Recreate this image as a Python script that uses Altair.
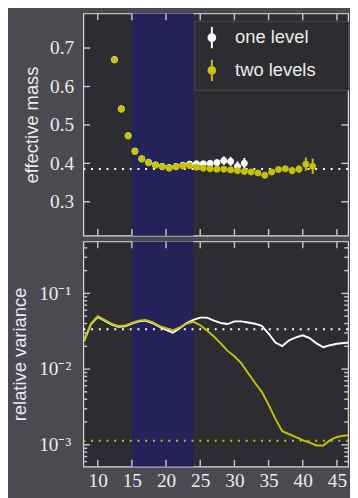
import altair as alt
import pandas as pd

# ---------------- shared x axis ----------------
x_domain = [7.9, 46.63]
x_ticks = [10, 15, 20, 25, 30, 35, 40, 45]
band_start, band_end = 15, 24
mid_offset = 0.45  # effective mass plotted between time slices

# ---------------- top panel: effective mass ----------------
t_two = list(range(12, 42))
m_two = [0.669, 0.541, 0.471, 0.431, 0.411, 0.4015, 0.395, 0.391, 0.3876, 0.391,
         0.393, 0.394, 0.390, 0.3876, 0.386, 0.385, 0.385, 0.383, 0.381, 0.379,
         0.3776, 0.375, 0.369, 0.3776, 0.384, 0.386, 0.381, 0.385, 0.398, 0.3925]
e_two = [0.003, 0.003, 0.003, 0.003, 0.003, 0.003, 0.003, 0.003, 0.003, 0.003,
         0.003, 0.003, 0.003, 0.003, 0.003, 0.003, 0.003, 0.003, 0.003, 0.003,
         0.003, 0.003, 0.005, 0.005, 0.005, 0.005, 0.009, 0.010, 0.017, 0.020]
t_one = list(range(12, 32))
m_one = [0.670, 0.542, 0.472, 0.432, 0.412, 0.4025, 0.396, 0.392, 0.389, 0.392,
         0.395, 0.398, 0.399, 0.399, 0.400, 0.402, 0.407, 0.405, 0.392, 0.400]
e_one = [0.003, 0.003, 0.003, 0.003, 0.003, 0.003, 0.003, 0.003, 0.003, 0.003,
         0.003, 0.003, 0.003, 0.003, 0.003, 0.006, 0.011, 0.012, 0.013, 0.014]
m_ref = 0.3855
mass_domain = [0.212, 0.79]
mass_ticks = [0.3, 0.4, 0.5, 0.6, 0.7]
series_names = ["one level", "two levels"]
series_colors = ["#ffffff", "#c8c300"]

# ---------------- bottom panel: relative variance ----------------
t_var = list(range(8, 48))
var_one = [0.0234, 0.0389, 0.0490, 0.0437, 0.0389, 0.0363, 0.0367, 0.0398, 0.0427, 0.0437,
           0.0407, 0.0363, 0.0331, 0.0302, 0.0347, 0.0407, 0.0447, 0.0479, 0.0479, 0.0437,
           0.0407, 0.0394, 0.0427, 0.0427, 0.0412, 0.0398, 0.0372, 0.0295, 0.0224, 0.0202,
           0.0240, 0.0263, 0.0279, 0.0257, 0.0219, 0.0195, 0.0207, 0.0216, 0.0221, 0.0226]
var_two = [0.0240, 0.0398, 0.0501, 0.0447, 0.0398, 0.0372, 0.0376, 0.0407, 0.0437, 0.0447,
           0.0417, 0.0372, 0.0347, 0.0324, 0.0355, 0.0398, 0.0422, 0.0380, 0.0324, 0.0269,
           0.0219, 0.0174, 0.0148, 0.0120, 0.0089, 0.0066, 0.0050, 0.0034, 0.0022, 0.00151,
           0.00138, 0.00126, 0.00115, 0.00107, 0.00098, 0.00098, 0.00115, 0.00127, 0.00132, 0.00135]
var_ref_one = 0.0336
var_ref_two = 0.00113
var_domain = [5.16e-4, 0.486]
var_major = [0.001, 0.01, 0.1]
var_major_labels = ["10⁻³", "10⁻²", "10⁻¹"]
var_minor = [6e-4, 7e-4, 8e-4, 9e-4,
             2e-3, 3e-3, 4e-3, 5e-3, 6e-3, 7e-3, 8e-3, 9e-3,
             2e-2, 3e-2, 4e-2, 5e-2, 6e-2, 7e-2, 8e-2, 9e-2,
             2e-1, 3e-1, 4e-1]

# ---------------- style ----------------
W, H1, H2 = 274, 230, 233
BG = "#4a4a50"
PANEL = "#2d2c30"
BAND = "#232259"
TICK = "#c4c4c4"
TXT = "#ececec"
SERIF = "Liberation Serif"
SANS = "Liberation Sans"

xs = alt.Scale(domain=x_domain, nice=False, zero=False)
ys1 = alt.Scale(domain=mass_domain, nice=False, zero=False)
ys2 = alt.Scale(type="log", domain=var_domain, nice=False)
cs = alt.Scale(domain=series_names, range=series_colors)

label_map = "{" + ",".join(f"'{v}':'{l}'" for v, l in zip(var_major, var_major_labels)) + "}"

AX_Y1 = alt.Axis(values=mass_ticks, format=".1f", ticks=False, tickSize=0, domain=False,
                 grid=False, labelFont=SERIF, labelFontSize=20, labelColor=TXT,
                 labelPadding=10, title="effective mass", titleFont=SANS, titleFontSize=19,
                 titleFontWeight="normal", titleColor=TXT, titlePadding=8)
AX_X2 = alt.Axis(values=x_ticks, ticks=False, tickSize=0, domain=False, grid=False,
                 labelFont=SERIF, labelFontSize=20, labelColor=TXT, labelPadding=5,
                 title=None)
AX_Y2 = alt.Axis(values=var_major, ticks=False, tickSize=0, domain=False, grid=False,
                 labelExpr=label_map + "[''+datum.value]",
                 labelFont=SERIF, labelFontSize=20, labelColor=TXT, labelPadding=13,
                 title="relative variance", titleFont=SANS, titleFontSize=19,
                 titleFontWeight="normal", titleColor=TXT, titlePadding=10)


def band_layer(h, xax):
    df = pd.DataFrame({"x0": [band_start], "x1": [band_end]})
    return alt.Chart(df).mark_rect(color=BAND).encode(
        x=alt.X("x0:Q", scale=xs, axis=xax), x2="x1",
        y=alt.value(0), y2=alt.value(h))


def xtick_layers(h, xax):
    df = pd.DataFrame({"v": x_ticks})
    out = []
    for a, b in [(0, 7), (h - 7, h)]:
        out.append(alt.Chart(df).mark_rule(color=TICK, strokeWidth=1.5).encode(
            x=alt.X("v:Q", scale=xs, axis=xax), y=alt.value(a), y2=alt.value(b)))
    return out


def ytick_layers(vals, scale, length, yax):
    df = pd.DataFrame({"v": vals})
    out = []
    for a, b in [(0, length), (W - length, W)]:
        out.append(alt.Chart(df).mark_rule(color=TICK, strokeWidth=1.5).encode(
            y=alt.Y("v:Q", scale=scale, axis=yax), x=alt.value(a), x2=alt.value(b)))
    return out


# ---- top panel ----
ref_top = alt.Chart(pd.DataFrame({"m": [m_ref]})).mark_rule(
    color="white", strokeDash=[2, 6], strokeWidth=2).encode(
    y=alt.Y("m:Q", scale=ys1, axis=AX_Y1))

df_one = pd.DataFrame({"x": [t + mid_offset for t in t_one], "m": m_one,
                       "lo": [m - e for m, e in zip(m_one, e_one)],
                       "hi": [m + e for m, e in zip(m_one, e_one)],
                       "series": series_names[0]})
df_two = pd.DataFrame({"x": [t + mid_offset for t in t_two], "m": m_two,
                       "lo": [m - e for m, e in zip(m_two, e_two)],
                       "hi": [m + e for m, e in zip(m_two, e_two)],
                       "series": series_names[1]})
df_pts = pd.concat([df_one, df_two], ignore_index=True)

err_one = alt.Chart(df_one).mark_rule(color=series_colors[0], strokeWidth=2).encode(
    x=alt.X("x:Q", scale=xs, axis=None), y=alt.Y("lo:Q", scale=ys1, axis=AX_Y1), y2="hi")
err_two = alt.Chart(df_two).mark_rule(color=series_colors[1], strokeWidth=2).encode(
    x=alt.X("x:Q", scale=xs, axis=None), y=alt.Y("lo:Q", scale=ys1, axis=AX_Y1), y2="hi")

sym_path = ("M0,-1L0,1M0.32,0A0.32,0.32,0,1,1,-0.32,0A0.32,0.32,0,1,1,0.32,0Z")
leg = alt.Legend(title=None, orient="none", legendX=115, legendY=8,
                 symbolType=sym_path, symbolSize=484, symbolStrokeWidth=2,
                 labelFont=SANS, labelFontSize=19, labelColor=TXT,
                 fillColor=PANEL, strokeColor="#4c4b51", padding=5,
                 rowPadding=4, symbolOffset=1, labelOffset=12,
                 labelExpr="datum.label + '\u2800\u2800'")

pts = alt.Chart(df_pts).mark_circle(size=40, opacity=1, strokeWidth=1).encode(
    x=alt.X("x:Q", scale=xs, axis=None),
    y=alt.Y("m:Q", scale=ys1, axis=AX_Y1),
    fill=alt.Fill("series:N", scale=cs, legend=leg),
    stroke=alt.Stroke("series:N", scale=cs, legend=leg),
)

top = alt.layer(band_layer(H1, None), ref_top, err_one, err_two, pts,
                *xtick_layers(H1, None), *ytick_layers(mass_ticks, ys1, 7, AX_Y1)).properties(
    width=W, height=H1)

# ---- bottom panel ----
df_var = pd.DataFrame({"t": t_var, "one": var_one, "two": var_two})

line_one = alt.Chart(df_var).mark_line(color=series_colors[0], strokeWidth=2, clip=True).encode(
    x=alt.X("t:Q", scale=xs, axis=AX_X2),
    y=alt.Y("one:Q", scale=ys2, axis=AX_Y2))
line_two = alt.Chart(df_var).mark_line(color=series_colors[1], strokeWidth=2, clip=True).encode(
    x=alt.X("t:Q", scale=xs, axis=AX_X2),
    y=alt.Y("two:Q", scale=ys2, axis=AX_Y2))

ref_b1 = alt.Chart(pd.DataFrame({"v": [var_ref_one]})).mark_rule(
    color=series_colors[0], strokeDash=[2, 6], strokeWidth=2).encode(
    y=alt.Y("v:Q", scale=ys2, axis=AX_Y2))
ref_b2 = alt.Chart(pd.DataFrame({"v": [var_ref_two]})).mark_rule(
    color=series_colors[1], strokeDash=[2, 6], strokeWidth=2).encode(
    y=alt.Y("v:Q", scale=ys2, axis=AX_Y2))

bottom = alt.layer(band_layer(H2, AX_X2), ref_b1, ref_b2, line_one, line_two,
                   *xtick_layers(H2, AX_X2), *ytick_layers(var_major, ys2, 7, AX_Y2),
                   *ytick_layers(var_minor, ys2, 4, AX_Y2)).properties(width=W, height=H2)

chart = alt.vconcat(top, bottom, spacing=2).configure(
    background=BG, padding={"left": 2, "top": -5, "right": 0, "bottom": 0}
).configure_view(fill=PANEL, stroke="#dedede", strokeWidth=1.2)

chart.save("out.html", embed_options={"renderer": "svg", "actions": False})
